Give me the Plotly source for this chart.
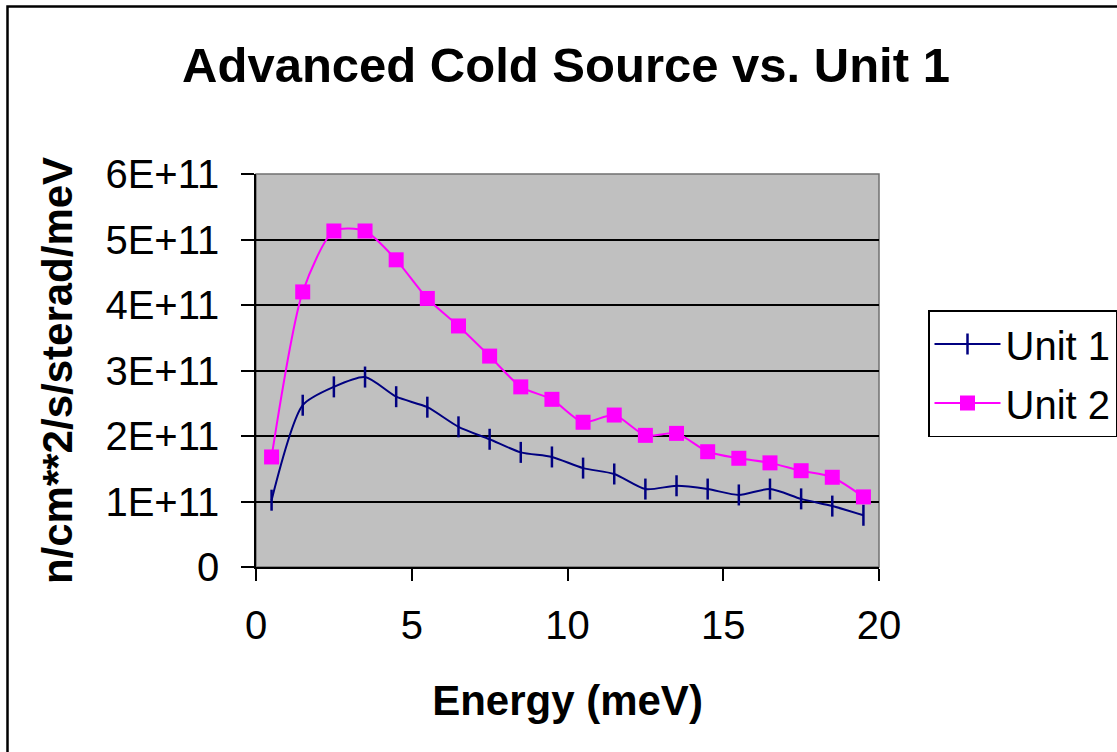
import plotly.graph_objects as go

energy = [0.5, 1.5, 2.5, 3.5, 4.5, 5.5, 6.5, 7.5, 8.5, 9.5,
          10.5, 11.5, 12.5, 13.5, 14.5, 15.5, 16.5, 17.5, 18.5, 19.5]
unit1 = [1.02e11, 2.47e11, 2.75e11, 2.90e11, 2.60e11, 2.44e11, 2.14e11, 1.95e11, 1.75e11, 1.68e11,
         1.51e11, 1.42e11, 1.19e11, 1.24e11, 1.19e11, 1.10e11, 1.19e11, 1.04e11, 0.93e11, 0.79e11]
unit2 = [1.68e11, 4.20e11, 5.13e11, 5.13e11, 4.69e11, 4.10e11, 3.68e11, 3.22e11, 2.75e11, 2.56e11,
         2.21e11, 2.32e11, 2.01e11, 2.04e11, 1.76e11, 1.66e11, 1.59e11, 1.47e11, 1.37e11, 1.07e11]
series_names = ["Unit 1", "Unit 2"]
y_tickvals = [0, 1e11, 2e11, 3e11, 4e11, 5e11, 6e11]
y_ticktext = ["0", "1E+11", "2E+11", "3E+11", "4E+11", "5E+11", "6E+11"]
x_tickvals = [0, 5, 10, 15, 20]

FONT = "Arial, Liberation Sans, sans-serif"
W, H = 1117, 752
L, R, T, B = 256, 879, 174, 567

fig = go.Figure()
fig.add_trace(go.Scatter(
    x=energy, y=unit1, name=series_names[0], mode="lines+markers", legendgroup="u1",
    line=dict(color="#000080", width=2, shape="spline", smoothing=0.7),
    marker=dict(symbol="line-ns", size=15, color="#000080",
                line=dict(color="#000080", width=2.5)),
))
fig.add_trace(go.Scatter(
    x=energy, y=unit2, name=series_names[1], mode="lines+markers", legendgroup="u2",
    line=dict(color="#FF00FF", width=2, shape="spline", smoothing=0.7),
    marker=dict(symbol="square", size=15, color="#FF00FF",
                line=dict(width=0)),
))

pw, ph = R - L, B - T
def px2x(px):
    return (px - L) / pw
def py2y(py):
    return (B - py) / ph

# outer chart border
fig.add_shape(type="rect", xref="paper", yref="paper",
              x0=px2x(7.5), x1=px2x(1135), y0=py2y(770), y1=py2y(6.5),
              line=dict(color="black", width=2.5), fillcolor="rgba(0,0,0,0)")
# plot area border (gray)
fig.add_shape(type="rect", xref="paper", yref="paper",
              x0=0, x1=1, y0=0, y1=1,
              line=dict(color="#707070", width=1.5), fillcolor="rgba(0,0,0,0)",
              layer="below")

fig.update_layout(
    width=W, height=H,
    margin=dict(l=L, r=W - R, t=T, b=H - B, autoexpand=False),
    paper_bgcolor="white", plot_bgcolor="#C0C0C0",
    font=dict(family=FONT, color="black", size=40),
    title=dict(text="<b>Advanced Cold Source vs. Unit 1</b>",
               font=dict(family=FONT, size=49, color="black"),
               x=566 / W, xanchor="center", xref="container",
               y=1 - 65 / H, yanchor="middle", yref="container"),
    showlegend=True,
    legend=dict(x=px2x(928), y=py2y(310), xanchor="left", yanchor="top",
                bgcolor="white", bordercolor="black", borderwidth=1.5,
                font=dict(family=FONT, size=40, color="black"),
                tracegroupgap=4, itemwidth=66),
    xaxis=dict(range=[0, 20], tickvals=x_tickvals, showgrid=False, zeroline=False,
               showline=True, linecolor="black", linewidth=1.5,
               ticks="outside", ticklen=12, tickwidth=1.5, tickcolor="black",
               ticklabelstandoff=10,
               tickfont=dict(family=FONT, size=40, color="black"),
               title=dict(text="<b>Energy (meV)</b>", standoff=40,
                          font=dict(family=FONT, size=42, color="black"))),
    yaxis=dict(range=[0, 6e11], tickvals=y_tickvals, ticktext=y_ticktext,
               showgrid=True, gridcolor="black", gridwidth=1.5, zeroline=False,
               showline=True, linecolor="black", linewidth=1.5,
               ticks="outside", ticklen=13, tickwidth=1.5, tickcolor="black",
               ticklabelstandoff=14,
               tickfont=dict(family=FONT, size=40, color="black"),
               title=dict(text="<b>n/cm**2/s/sterad/meV</b>", standoff=20,
                          font=dict(family=FONT, size=42, color="black"))),
)

fig.write_html("out.html", config={"displayModeBar": False},
               post_script="document.body.style.margin='0';")
